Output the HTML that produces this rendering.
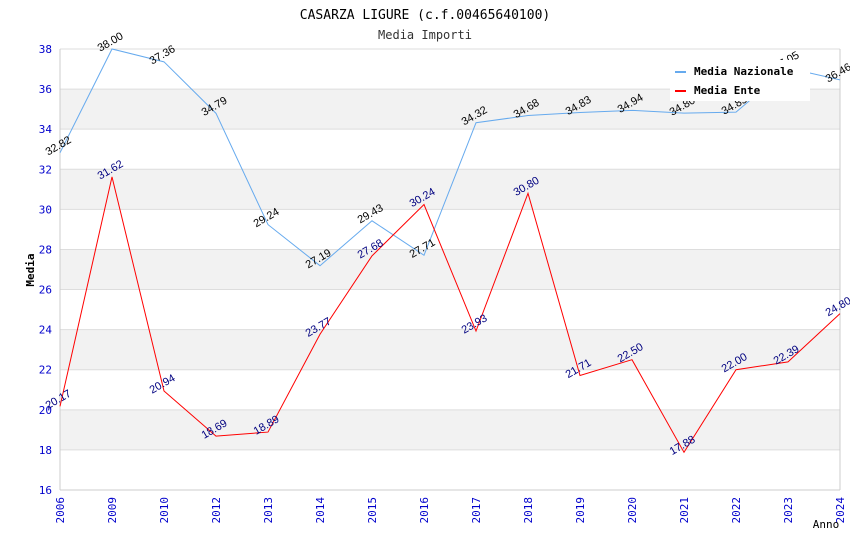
<!DOCTYPE html>
<html><head><meta charset="utf-8"><style>
body{margin:0;background:#fff}
svg{font-family:"DejaVu Sans Mono","Liberation Mono",monospace}
</style></head><body>
<svg id="c" width="850" height="550">
<text x="425" y="19" text-anchor="middle" font-size="13" fill="#000">CASARZA LIGURE (c.f.00465640100)</text>
<text x="425" y="39" text-anchor="middle" font-size="12" fill="#333">Media Importi</text>
<g id="grid"></g><g id="axes"></g><g id="series"></g>
<text x="34" y="270" text-anchor="middle" font-size="11" font-weight="bold" transform="rotate(-90 34 270)">Media</text>
<text x="826" y="528" text-anchor="middle" font-size="11">Anno</text>
<g>
<rect x="670" y="60" width="140" height="41" fill="#fff"/>
<line x1="675" y1="72" x2="686" y2="72" stroke="#66aaee" stroke-width="2"/>
<text x="694" y="75" font-size="11" font-weight="bold">Media Nazionale</text>
<line x1="675" y1="91" x2="686" y2="91" stroke="red" stroke-width="2"/>
<text x="694" y="94" font-size="11" font-weight="bold">Media Ente</text>
</g>
</svg>
<script>
const years=["2006","2009","2010","2012","2013","2014","2015","2016","2017","2018","2019","2020","2021","2022","2023","2024"];
const nazionale=[32.82,38.00,37.36,34.79,29.24,27.19,29.43,27.71,34.32,34.68,34.83,34.94,34.80,34.85,37.05,36.46];
const ente=[20.17,31.62,20.94,18.69,18.89,23.77,27.68,30.24,23.93,30.80,21.71,22.50,17.88,22.00,22.39,24.80];
const yTicks=[16,18,20,22,24,26,28,30,32,34,36,38];
const L=60,R=840,T=49,B=490,yMin=16,yMax=38;
const ns="http://www.w3.org/2000/svg";
const X=i=>L+i*(R-L)/(years.length-1);
const Y=v=>B-(v-yMin)/(yMax-yMin)*(B-T);
function mk(t,a,p){const e=document.createElementNS(ns,t);for(const k in a)e.setAttribute(k,a[k]);p.appendChild(e);return e;}
const grid=document.getElementById('grid'),axes=document.getElementById('axes'),ser=document.getElementById('series');
for(let i=0;i<yTicks.length-1;i++){
 if(i%2===1){const r=mk('rect',{x:L,y:Y(yTicks[i+1]),width:R-L,height:Y(yTicks[i])-Y(yTicks[i+1]),fill:'#f2f2f2'},grid);
 
 }
}
yTicks.forEach(v=>{
 const l=mk('line',{x1:L,x2:R,y1:Y(v),y2:Y(v),stroke:'#ddd'},grid);
 
 
 const t=mk('text',{x:L-8,y:Y(v)+4,'text-anchor':'end','font-size':11,fill:'#0000cc'},axes);t.textContent=v;
 
 
});
mk('line',{x1:L,x2:L,y1:T,y2:B,stroke:'#ccc'},axes);
mk('line',{x1:R,x2:R,y1:T,y2:B,stroke:'#ccc'},axes);
mk('line',{x1:L,x2:R,y1:B,y2:B,stroke:'#ccc'},axes);
years.forEach((y,i)=>{
 const x=X(i);
 const t=mk('text',{x:x+4,y:B+7,'text-anchor':'end','font-size':11,fill:'#0000cc',transform:`rotate(-90 ${x+4} ${B+7})`},axes);t.textContent=y;
 
 
});
function series(vals,color,labColor,name){
 const p=mk('polyline',{points:vals.map((v,i)=>X(i)+','+Y(v)).join(' '),fill:'none',stroke:color,'stroke-width':1},ser);
 
 
 vals.forEach((v,i)=>{
  const x=X(i),y=Y(v)-4;
  const t=mk('text',{x:x,y:y,'text-anchor':'middle','font-size':11,fill:labColor,'font-family':'Liberation Sans, sans-serif',transform:`rotate(-30 ${x} ${y})`},ser);
  t.textContent=v.toFixed(2);
  
  
 });
}
series(nazionale,'#66aaee','#000','nazionale');
series(ente,'red','#000080','ente');
</script>
</body></html>
